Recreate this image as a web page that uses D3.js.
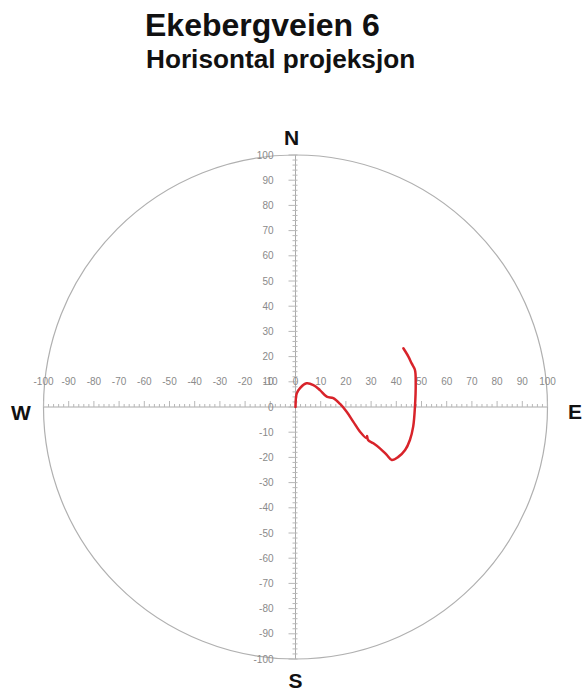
<!DOCTYPE html>
<html>
<head>
<meta charset="utf-8">
<script src="https://cdn.jsdelivr.net/npm/d3@7/dist/d3.min.js"></script>
<style>
  html, body { margin: 0; padding: 0; background: #fff; }
  svg { display: block; }
</style>
</head>
<body>
<svg id="chart" width="586" height="693"></svg>
<script>
// Horizontal projection of the measured trace (east / north offsets)
const eastValues  = [0, 0.5, 1.8, 4.4, 7.1, 9.7, 12.4, 15.0, 17.7, 20.3, 22.9, 25.6, 28.3, 28.4, 28.8, 30.9, 33.5, 36.2, 38.2, 40.8, 43.5, 45.4, 46.7, 47.4, 47.7, 47.4, 46.1, 44.8, 42.8];
const northValues = [0, 5.4, 7.5, 9.4, 8.7, 6.7, 4.1, 3.5, 1.2, -1.9, -5.8, -9.8, -12.4, -11.5, -13.1, -14.4, -16.4, -19.0, -21.0, -19.8, -17.1, -13.1, -7.8, 0.1, 9.4, 14.7, 17.3, 20.0, 23.3];
const axisTicks = d3.range(-100, 101, 10);
const compassLabels = ["N", "E", "S", "W"];
const titleText = "Ekebergveien 6";
const subtitleText = "Horisontal projeksjon";

const svg = d3.select("#chart");
const cx = 295.5, cy = 407, R = 252;

const x = d3.scaleLinear().domain([-100, 100]).range([cx - R, cx + R]);
const y = d3.scaleLinear().domain([-100, 100]).range([cy + R, cy - R]);

// Titles
svg.append("text").attr("x", 145).attr("y", 36)
  .attr("font-family", "Liberation Sans, Arial, sans-serif")
  .attr("font-weight", "bold").attr("font-size", 32).attr("fill", "#111")
  .text(titleText);
svg.append("text").attr("x", 146).attr("y", 68)
  .attr("font-family", "Liberation Sans, Arial, sans-serif")
  .attr("font-weight", "bold").attr("font-size", 26.2).attr("fill", "#111")
  .text(subtitleText);

// Outer circle (radius = 100)
svg.append("circle").attr("cx", cx).attr("cy", cy).attr("r", R)
  .attr("fill", "none").attr("stroke", "#b0b0b0").attr("stroke-width", 1.2);

const minor = d3.range(-100, 101, 2);
const g = svg.append("g").attr("stroke", "#b8b8b8").attr("stroke-width", 1);

// Horizontal axis
g.append("line").attr("x1", x(-100)).attr("x2", x(100)).attr("y1", cy).attr("y2", cy)
  .attr("stroke", "#aaa");
g.selectAll(".hx").data(minor).join("line")
  .attr("x1", d => x(d)).attr("x2", d => x(d))
  .attr("y1", cy).attr("y2", d => cy - (d % 10 === 0 ? 6 : 3));

// Vertical axis
g.append("line").attr("y1", y(-100)).attr("y2", y(100)).attr("x1", cx).attr("x2", cx)
  .attr("stroke", "#aaa");
g.selectAll(".vy").data(minor).join("line")
  .attr("y1", d => y(d)).attr("y2", d => y(d))
  .attr("x1", d => cx - (d % 10 === 0 ? 7 : 3)).attr("x2", cx + 2);

// Tick labels
const lab = svg.append("g").attr("font-family", "Liberation Sans, Arial, sans-serif")
  .attr("font-size", 10).attr("fill", "#8a8a8a");
lab.selectAll(".lx").data(axisTicks).join("text")
  .attr("x", d => x(d)).attr("y", cy - 22)
  .attr("text-anchor", "middle").text(d => d);
lab.selectAll(".ly").data(axisTicks).join("text")
  .attr("x", cx - 22).attr("y", d => y(d) + 3.5)
  .attr("text-anchor", "end").text(d => d);

// Compass letters
const cpos = {
  N: [cx - 4, cy - R - 10],
  S: [cx, cy + R + 29],
  W: [21, cy + 13],
  E: [575, cy + 12]
};
svg.append("g").attr("font-family", "Liberation Sans, Arial, sans-serif")
  .attr("font-weight", "bold").attr("font-size", 21).attr("fill", "#111")
  .selectAll("text").data(compassLabels).join("text")
  .attr("x", d => cpos[d][0]).attr("y", d => cpos[d][1])
  .attr("text-anchor", "middle").text(d => d);

// Trace
const pts = eastValues.map((e, i) => [e, northValues[i]]);
svg.append("path").datum(pts)
  .attr("fill", "none").attr("stroke", "#d8232a").attr("stroke-width", 2.5)
  .attr("stroke-linejoin", "round").attr("stroke-linecap", "round")
  .attr("d", d3.line().x(d => x(d[0])).y(d => y(d[1])).curve(d3.curveCatmullRom.alpha(0.5)));
</script>
</body>
</html>
